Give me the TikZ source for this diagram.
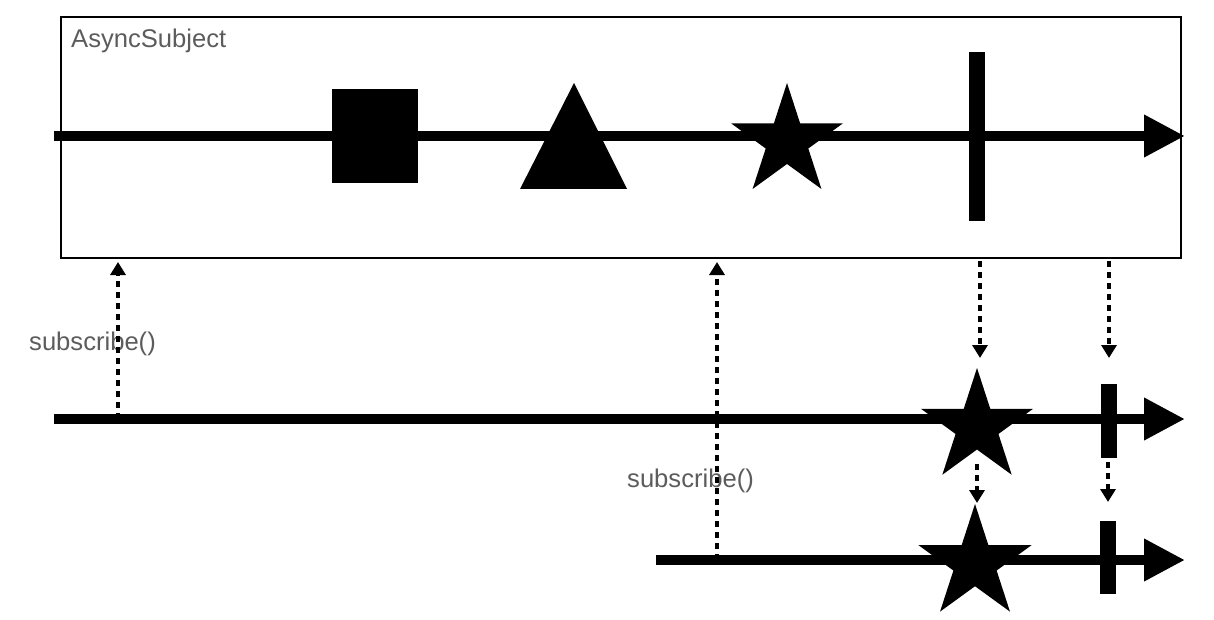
\documentclass[tikz,border=0pt]{standalone}
\usepackage{fontspec}
\setmainfont{Liberation Sans}
\usetikzlibrary{arrows.meta}
\definecolor{labelgray}{HTML}{5C5C5C}
\begin{document}
\begin{tikzpicture}[x=1pt,y=-1pt,
  timeline/.style={line width=10pt, -{Triangle[length=41pt,width=40pt]}},
  dasharrow/.style={line width=3.5pt, dash pattern=on 6pt off 5pt, -{Triangle[length=13pt,width=15pt]}},
  lbl/.style={text=labelgray, inner sep=0pt, anchor=base west, font=\fontsize{25.6}{30}\selectfont},
  barmark/.style={fill=black, draw=none, inner sep=0pt, minimum width=16pt},
  starmark/.pic={\fill (-90:1) -- (-54:0.382) -- (-18:1) -- (18:0.382) -- (54:1) -- (90:0.382) -- (126:1) -- (162:0.382) -- (198:1) -- (234:0.382) -- cycle;}
]
\useasboundingbox (0,0) rectangle (1214,620);

% subject box
\node[draw, line width=2pt, inner sep=0pt, minimum width=1120pt, minimum height=241pt, anchor=north west] (subj) at (60,16) {};
\node[lbl] (title) at (71,48) {AsyncSubject};

% timelines
\coordinate (t1s) at (54,136);  \coordinate (t1e) at (1185,136);
\coordinate (t2s) at (54,419);  \coordinate (t2e) at (1185,419);
\coordinate (t3s) at (656,560); \coordinate (t3e) at (1185,560);
\draw[timeline] (t1s) -- (t1e);
\draw[timeline] (t2s) -- (t2e);
\draw[timeline] (t3s) -- (t3e);

% top marbles
\node[fill=black, inner sep=0pt, minimum width=86pt, minimum height=94pt] (sq) at (375,136) {};
\coordinate (triA) at (574,83);
\coordinate (triB) at (520,189);
\coordinate (triC) at (627,189);
\fill (triA) -- (triB) -- (triC) -- cycle;
\coordinate (s1) at (787,141.6);
\pic[scale=58.6] at (s1) {starmark};
\node[barmark, minimum height=169pt] (bar1) at (977,136.5) {};

% subscriber 1 marbles
\coordinate (s2) at (977,427);
\pic[scale=59] at (s2) {starmark};
\node[barmark, minimum height=74pt] (bar2) at (1109,421) {};

% subscriber 2 marbles
\coordinate (s3) at (975,563.5);
\pic[scale=59.5] at (s3) {starmark};
\node[barmark, minimum height=73pt] (bar3) at (1107.5,557.5) {};

% labels
\node[lbl] (sub1) at (29,350) {subscribe()};
\node[lbl] (sub2) at (627,487) {subscribe()};

% dashed arrows
\coordinate (u1s) at (118,419); \coordinate (u1e) at (118,262);
\coordinate (u2s) at (717,560); \coordinate (u2e) at (717,262);
\coordinate (d1s) at (980,261); \coordinate (d1e) at (980,358);
\coordinate (d2s) at (1109,261); \coordinate (d2e) at (1109,358);
\coordinate (d3s) at (977,464); \coordinate (d3e) at (977,503);
\coordinate (d4s) at (1108,462); \coordinate (d4e) at (1108,502);
\draw[dasharrow] (u1s) -- (u1e);
\draw[dasharrow] (u2s) -- (u2e);
\draw[dasharrow] (d1s) -- (d1e);
\draw[dasharrow] (d2s) -- (d2e);
\draw[dasharrow] (d3s) -- (d3e);
\draw[dasharrow] (d4s) -- (d4e);
\end{tikzpicture}
\end{document}
